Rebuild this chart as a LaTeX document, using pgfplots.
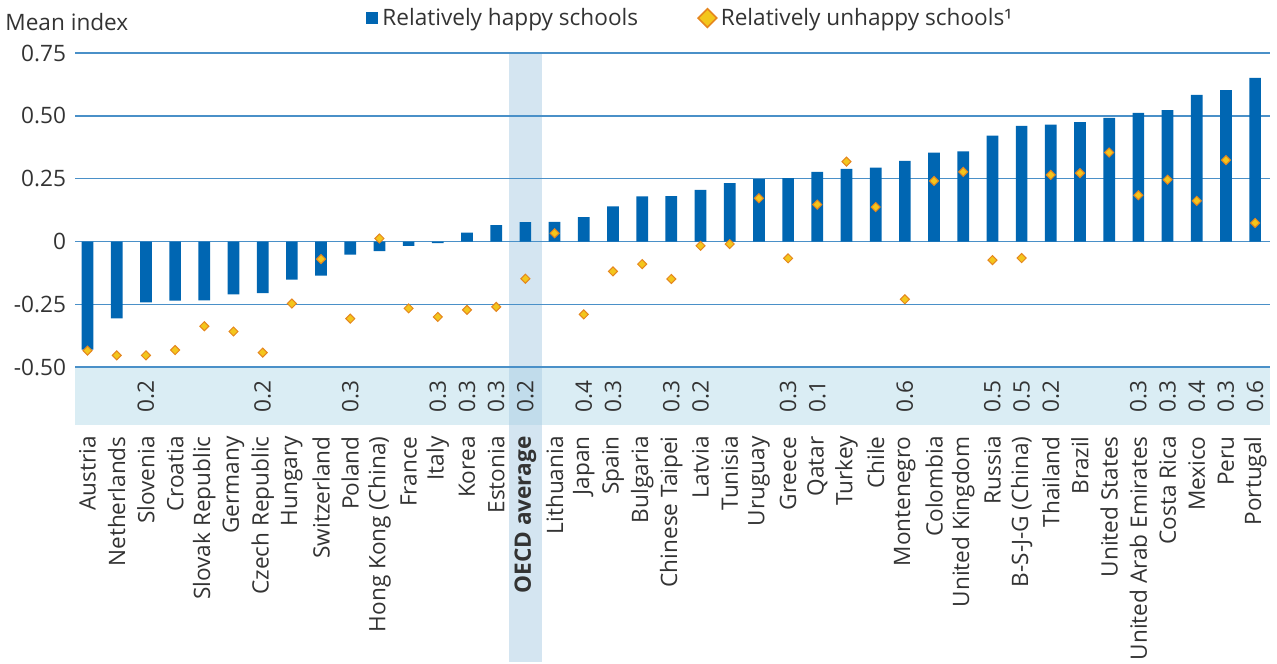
\documentclass[border=0pt]{standalone}
\usepackage{fontspec}
\setmainfont{Open Sans}
\usepackage{pgfplots}
\pgfplotsset{compat=1.18}

\definecolor{barblue}{HTML}{0066B2}
\definecolor{gridblue}{HTML}{4A90C8}
\definecolor{bandblue}{HTML}{DAEDF4}
\definecolor{hilite}{HTML}{A9CCE3}
\definecolor{dfill}{HTML}{F3C61C}
\definecolor{dedge}{HTML}{E5861E}
\definecolor{txt}{HTML}{333333}

\begin{document}
\begin{tikzpicture}[font=\fontsize{11.3}{13}\selectfont, text=txt]
\begin{axis}[
    at={(0,0)}, anchor=south west,
    scale only axis,
    width=597.5pt, height=186pt,
    xmin=-0.43, xmax=40.51,
    ymin=-0.73, ymax=0.75,
    set layers,
    clip=false,
    axis line style={draw=none},
    major tick length=0pt,
    ymajorgrids,
    grid style={gridblue, line width=0.7pt},
    ytick={-0.5,-0.25,0,0.25,0.5,0.75},
    yticklabels={-0.50,-0.25,0,0.25,0.50,0.75},
    yticklabel style={anchor=east, xshift=-1pt, text=txt},
    xtick={0,...,40},
    xticklabels={Austria,Netherlands,Slovenia,Croatia,Slovak Republic,Germany,Czech Republic,Hungary,Switzerland,Poland,Hong Kong (China),France,Italy,Korea,Estonia,\textbf{OECD average},Lithuania,Japan,Spain,Bulgaria,Chinese Taipei,Latvia,Tunisia,Uruguay,Greece,Qatar,Turkey,Chile,Montenegro,Colombia,United Kingdom,Russia,B-S-J-G (China),Thailand,Brazil,United States,United Arab Emirates,Costa Rica,Mexico,Peru,Portugal},
    xticklabel style={rotate=90, anchor=east, inner sep=0pt, text=txt},
    xticklabel shift=5.5pt,
    legend style={at={(axis description cs:0.2435,1.094)}, anchor=west,
        draw=none, fill=none, inner sep=0pt, legend columns=2,
        nodes={inner sep=2pt, text=txt},
        /tikz/every even column/.append style={column sep=28pt}},
    legend cell align=left,
]
\begin{pgfonlayer}{axis background}
\fill[bandblue] (axis cs:-0.43,-0.73) rectangle (axis cs:40.51,-0.5);
\fill[hilite, opacity=0.5] (axis cs:14.44,0.75) rectangle (axis cs:15.57,-1.674);
\end{pgfonlayer}

% relatively happy schools
\addplot[ybar, bar width=5.85pt, bar shift=0pt, fill=barblue, draw=none,
    legend image code/.code={\fill[barblue] (0pt,-3pt) rectangle (6pt,3pt);}]
coordinates {
(0,-0.430) (1,-0.306) (2,-0.242) (3,-0.235) (4,-0.234) (5,-0.210) (6,-0.205)
(7,-0.152) (8,-0.136) (9,-0.052) (10,-0.038) (11,-0.017) (12,-0.006) (13,0.035)
(14,0.065) (15,0.077) (16,0.078) (17,0.097) (18,0.140) (19,0.180) (20,0.181)
(21,0.205) (22,0.232) (23,0.248) (24,0.252) (25,0.277) (26,0.289) (27,0.294)
(28,0.321) (29,0.354) (30,0.359) (31,0.421) (32,0.460) (33,0.465) (34,0.475)
(35,0.492) (36,0.512) (37,0.523) (38,0.583) (39,0.602) (40,0.651)
};
\addlegendentry{Relatively happy schools}

% relatively unhappy schools
\addplot[only marks, mark=square*,
    mark options={rotate=45, fill=dfill, draw=dedge, line width=0.5pt},
    mark size=1.6pt,
    legend image code/.code={\draw[only marks, mark=square*, mark size=3.3pt,
        mark options={rotate=45, fill=dfill, draw=dedge, line width=0.8pt}]
        plot coordinates {(4.7pt,0pt)};}]
coordinates {
(0,-0.434) (1,-0.453) (2,-0.453) (3,-0.432) (4,-0.337) (5,-0.358) (6,-0.442)
(7,-0.247) (8,-0.070) (9,-0.307) (10,0.012) (11,-0.266) (12,-0.300) (13,-0.272)
(14,-0.260) (15,-0.148) (16,0.033) (17,-0.290) (18,-0.119) (19,-0.090) (20,-0.149)
(21,-0.017) (22,-0.010) (23,0.172) (24,-0.067) (25,0.147) (26,0.318) (27,0.137)
(28,-0.230) (29,0.241) (30,0.277) (31,-0.074) (32,-0.066) (33,0.265) (34,0.272)
(35,0.354) (36,0.184) (37,0.246) (38,0.162) (39,0.324) (40,0.074)
};
\addlegendentry{Relatively unhappy schools¹}

% values in the band
\addplot[draw=none, mark=none, forget plot,
    nodes near coords, point meta=explicit symbolic,
    every node near coord/.append style={rotate=90, anchor=east, inner sep=0pt, text=txt}]
coordinates {
(2,-0.553) [0.2] (6,-0.553) [0.2] (9,-0.553) [0.3] (12,-0.553) [0.3]
(13,-0.553) [0.3] (14,-0.553) [0.3] (15,-0.553) [0.2] (17,-0.553) [0.4]
(18,-0.553) [0.3] (20,-0.553) [0.3] (21,-0.553) [0.2] (24,-0.553) [0.3]
(25,-0.553) [0.1] (28,-0.553) [0.6] (31,-0.553) [0.5] (32,-0.553) [0.5]
(33,-0.553) [0.2] (36,-0.553) [0.3] (37,-0.553) [0.3] (38,-0.553) [0.4]
(39,-0.553) [0.3] (40,-0.553) [0.6]
};

\node[anchor=base west, inner sep=0pt] at ([xshift=-35pt, yshift=11.5pt]axis description cs:0,1) {Mean index};
\end{axis}
\path (-37.5pt,-119pt) rectangle (601pt,212.5pt);
\end{tikzpicture}
\end{document}
